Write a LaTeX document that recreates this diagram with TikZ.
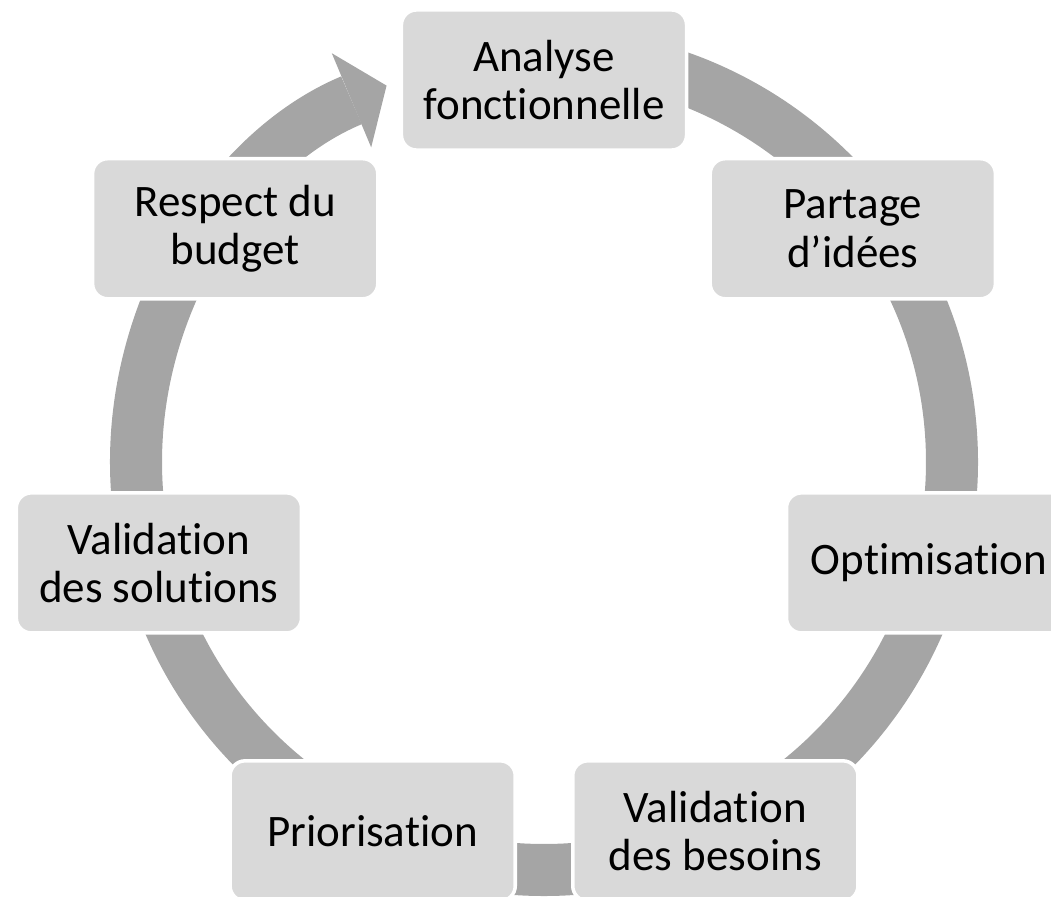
\documentclass[tikz,border=0pt]{standalone}
\usepackage{fontspec}
\setmainfont{Carlito}[Ligatures=NoCommon]
\usepackage{tikz}
\usetikzlibrary{calc,arrows.meta}
\definecolor{boxfill}{HTML}{D9D9D9}
\definecolor{ringgray}{HTML}{A5A5A5}
\tikzset{
  ring/.style={draw=ringgray, line width=0.52cm,
    -{Triangle[length=0.38cm,width=1.02cm,line width=0pt]}},
  box/.style={draw=white, line width=1pt, fill=boxfill, rounded corners=0.15cm,
    minimum width=2.85cm, minimum height=1.40cm, inner sep=0pt, align=center,
    font=\fontsize{12.8}{13.7}\selectfont},
}
\begin{document}
\begin{tikzpicture}[x=0.01cm, y=0.01cm]
  \useasboundingbox (0,0) rectangle (1051,896);
  \clip (0,0) rectangle (1051,896);
  \def\r{395}
  \def\R{408}
  \coordinate (O) at (544,421);
  \coordinate (Rc) at (544,434);

  \draw[ring] ($(Rc)+(90:\R)$) arc[start angle=90, end angle=-247.3, radius=\R];

  \node[box] (ana)  at ($(O)+(90:\r)$)      {Analyse\\fonctionnelle};
  \node[box] (par)  at ($(O)+(38.57:\r)$)   {Partage\\d’idées};
  \node[box] (opt)  at ($(O)+(-12.86:\r)$)  {Optimisation};
  \node[box] (valb) at ($(O)+(-64.29:\r)$)  {Validation\\des besoins};
  \node[box] (prio) at ($(O)+(-115.71:\r)$) {Priorisation};
  \node[box] (vals) at ($(O)+(-167.14:\r)$) {Validation\\des solutions};
  \node[box] (resp) at ($(O)+(141.43:\r)$)  {Respect du\\budget};
\end{tikzpicture}
\end{document}
